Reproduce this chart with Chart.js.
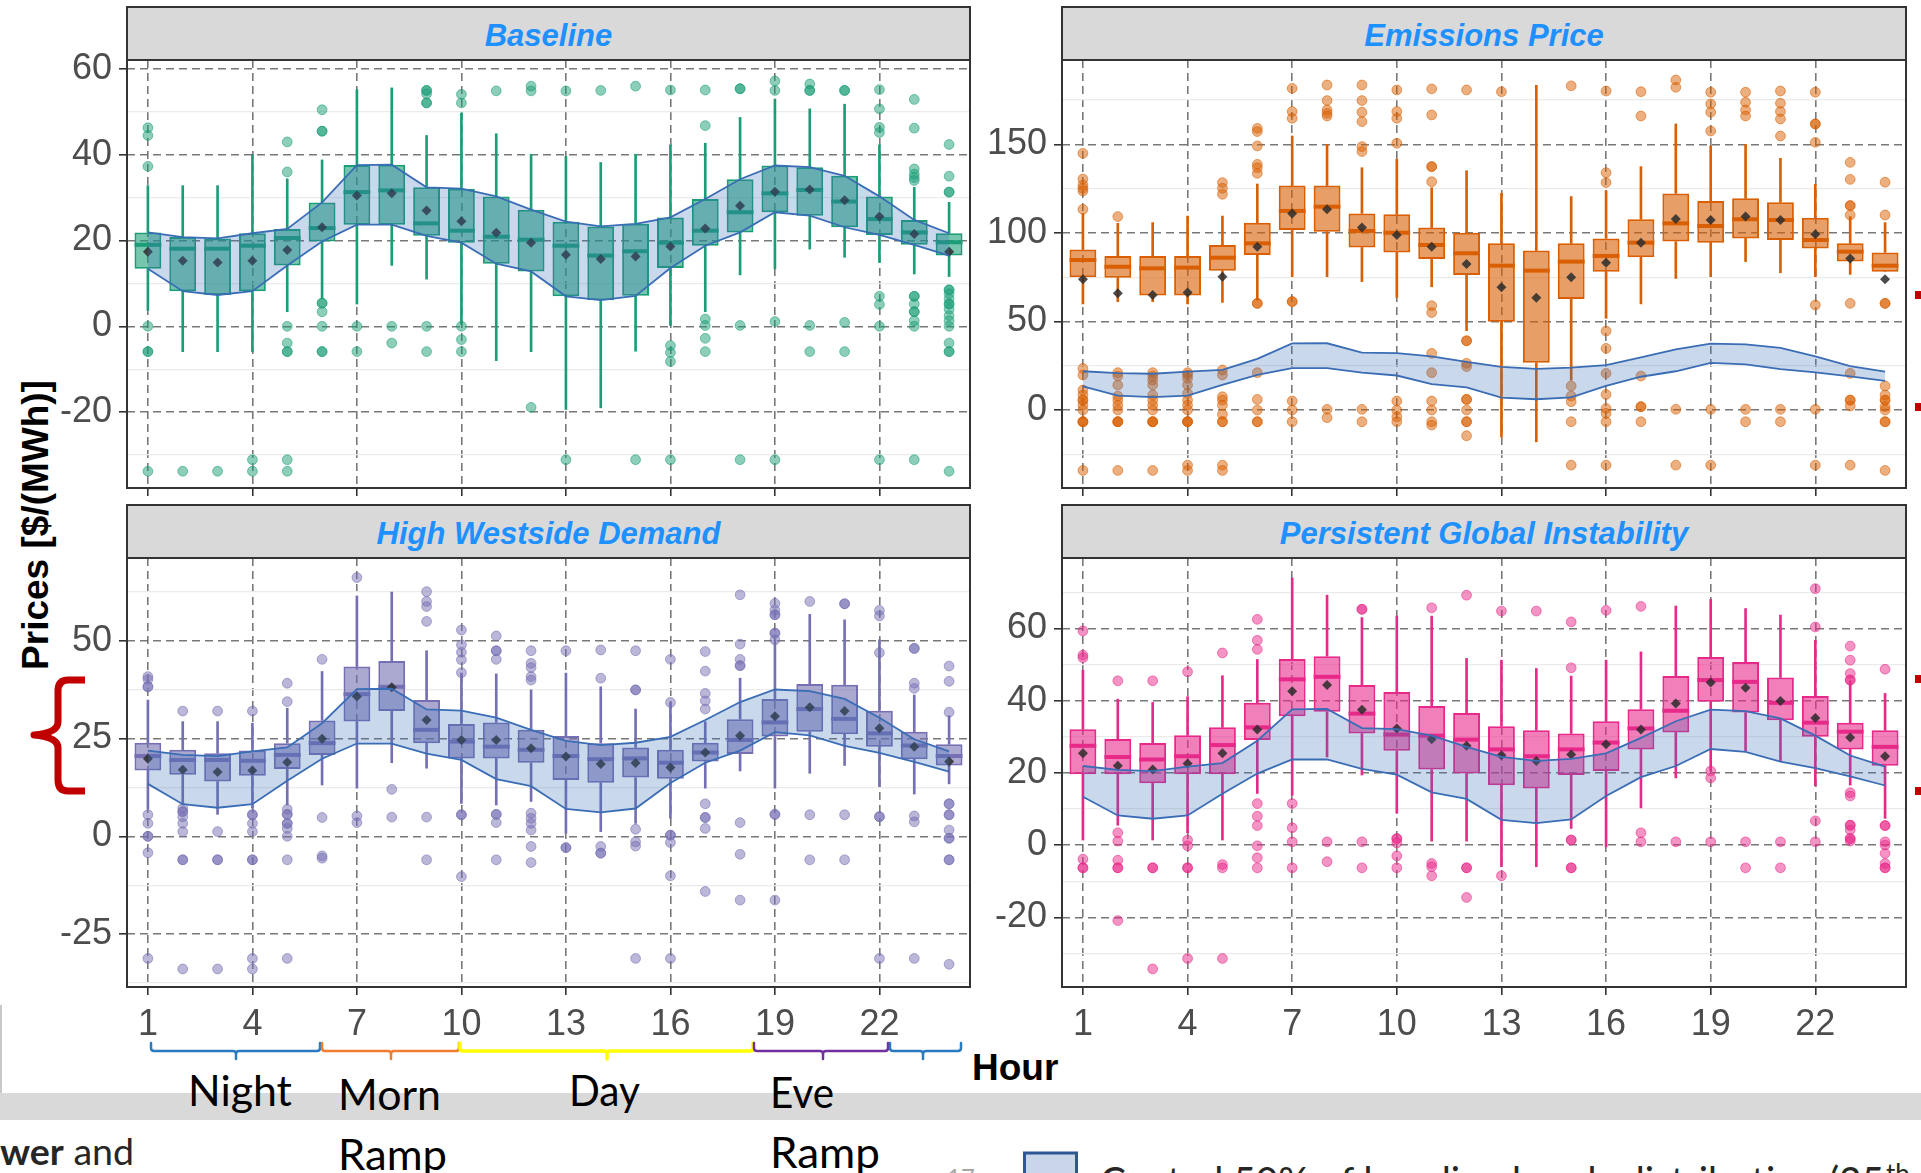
<!DOCTYPE html>
<html lang="en">
<head>
<meta charset="utf-8">
<title>Hourly prices by scenario</title>
<script src="https://cdn.jsdelivr.net/npm/chart.js@4.4.1/dist/chart.umd.min.js"></script>
<style>
  html, body { margin: 0; padding: 0; background: #fff; }
  #page { position: relative; width: 1921px; height: 1173px; overflow: hidden; background: #fff; }
  #deco { position: absolute; left: 0; top: 0; }
  canvas { position: absolute; }
</style>
</head>
<body>
<div id="page">
  <svg id="deco" width="1921" height="1173" viewBox="0 0 1921 1173" xmlns="http://www.w3.org/2000/svg">
    <!-- slide band behind the period labels -->
    <rect x="0" y="1093" width="1921" height="27" fill="#D9D9D9"/>
    <line x1="1" y1="1005" x2="1" y2="1093" stroke="#C8C8C8" stroke-width="2"/>

    <!-- facet strips -->
    <g stroke="#333" stroke-width="2" fill="#D9D9D9">
      <rect x="127" y="7" width="843" height="53"/>
      <rect x="1062" y="7" width="844" height="53"/>
      <rect x="127" y="505" width="843" height="53"/>
      <rect x="1062" y="505" width="844" height="53"/>
    </g>
    <g font-family="'Liberation Sans', Arial, sans-serif" font-weight="bold" font-style="italic" font-size="31" fill="#1E90FF" text-anchor="middle">
      <text x="548.5" y="46">Baseline</text>
      <text x="1484" y="46">Emissions Price</text>
      <text x="548.5" y="543.5">High Westside Demand</text>
      <text x="1484" y="543.5">Persistent Global Instability</text>
    </g>

    <!-- axis titles -->
    <text transform="translate(47.5,525) rotate(-90)" text-anchor="middle" font-family="'Liberation Sans', Arial, sans-serif" font-weight="bold" font-size="37" fill="#000">Prices [$/(MWh)]</text>
    <text x="972" y="1080" font-family="'Liberation Sans', Arial, sans-serif" font-weight="bold" font-size="37" fill="#000">Hour</text>

    <!-- red callout marks -->
    <path d="M85,680 L68,680 Q58,680 58,691 L58,722 Q58,733 34,735 Q58,737 58,748 L58,780 Q58,791 68,791 L85,791" fill="none" stroke="#C00000" stroke-width="7" stroke-linejoin="round"/>
    <g fill="#C00000">
      <rect x="1915" y="291" width="6" height="8"/>
      <rect x="1915" y="403" width="6" height="8"/>
      <rect x="1915" y="675" width="6" height="8"/>
      <rect x="1915" y="787" width="6" height="8"/>
    </g>

    <!-- period braces under the hour axis -->
    <g id="braces" fill="none" stroke-linecap="round" stroke-linejoin="round"></g>

    <!-- period labels -->
    <g font-family="Lato, 'Open Sans', sans-serif" font-size="43" fill="#000">
      <text x="188" y="1106" textLength="104" lengthAdjust="spacingAndGlyphs">Night</text>
      <text x="338" y="1110" textLength="103" lengthAdjust="spacingAndGlyphs">Morn</text>
      <text x="338" y="1170" textLength="109" lengthAdjust="spacingAndGlyphs">Ramp</text>
      <text x="569" y="1106" textLength="71" lengthAdjust="spacingAndGlyphs">Day</text>
      <text x="770" y="1108" textLength="64" lengthAdjust="spacingAndGlyphs">Eve</text>
      <text x="770" y="1168" textLength="110" lengthAdjust="spacingAndGlyphs">Ramp</text>
    </g>

    <!-- slide footer -->
    <text x="0" y="1165" font-family="Lato, sans-serif" font-size="36" fill="#262626" textLength="134" lengthAdjust="spacingAndGlyphs"><tspan font-weight="bold">wer</tspan> and</text>
    <text x="947" y="1186" font-family="Lato, sans-serif" font-size="24" fill="#A6A6A6">17</text>
    <rect x="1024.5" y="1153" width="52" height="40" fill="#C9D6EA" stroke="#2F5597" stroke-width="3"/>
    <text x="1100" y="1196" font-family="Lato, sans-serif" font-size="40" fill="#262626" textLength="784" lengthAdjust="spacingAndGlyphs">Central 50% of baseline bands distribution (25</text>
    <text x="1886" y="1183" font-family="Lato, sans-serif" font-size="26" fill="#262626">th</text>
  </svg>

  <canvas id="cBase" width="990" height="460" style="left:0px;top:50px"></canvas>
  <canvas id="cEmis" width="941" height="460" style="left:980px;top:50px"></canvas>
  <canvas id="cHwd" width="990" height="510" style="left:0px;top:548px"></canvas>
  <canvas id="cPgi" width="941" height="510" style="left:980px;top:548px"></canvas>
</div>

<script>
// ---- hours of the day ----
const hours = [1, 2, 3, 4, 5, 6, 7, 8, 9, 10, 11, 12, 13, 14, 15, 16, 17, 18, 19, 20, 21, 22, 23, 24];
const hourTicks = [1, 4, 7, 10, 13, 16, 19, 22];

// ---- Baseline: whisker ends, quartiles, median, mean, outliers ----
const baseLo   = [3.7, -5.9, -5.9, -5.9, 3.4, 6.4, 5.2, 14.2, 11.0, 0.5, -8.0, -5.9, -19.4, -19.0, -5.8, 0.2, 3.4, 12.0, 13.4, 18.0, 16.1, 14.9, 12.2, 11.6];
const baseQ1   = [13.4, 8.2, 7.3, 8.2, 14.2, 19.8, 23.7, 23.7, 21.1, 19.5, 14.6, 12.8, 7.0, 6.1, 7.1, 13.6, 18.8, 21.9, 26.6, 25.8, 23.1, 21.3, 19.0, 16.5];
const baseMed  = [19.0, 18.1, 18.1, 18.8, 20.6, 22.9, 31.3, 31.7, 24.0, 22.3, 20.9, 20.2, 18.8, 16.5, 17.5, 19.5, 22.3, 26.6, 31.0, 31.8, 29.1, 25.0, 21.9, 19.6];
const baseQ3   = [21.9, 20.8, 20.5, 21.7, 22.7, 28.9, 37.6, 37.7, 32.4, 32.1, 30.3, 27.2, 24.4, 23.3, 23.9, 25.4, 29.7, 34.3, 37.5, 37.1, 35.1, 30.3, 24.8, 21.7];
const baseHi   = [32.8, 32.8, 32.8, 40.1, 34.4, 38.8, 55.2, 55.6, 44.5, 49.7, 44.9, 40.1, 39.6, 38.2, 40.0, 42.3, 42.7, 48.7, 53.0, 50.7, 51.8, 42.3, 32.4, 28.9];
const baseMean = [17.4, 15.3, 14.9, 15.3, 17.8, 23.1, 30.5, 31.0, 27.0, 24.5, 21.8, 19.5, 16.7, 15.7, 16.3, 18.6, 22.8, 28.1, 31.4, 31.9, 29.4, 25.6, 21.5, 17.4];
const baseOut = [
  [46.3, 44.5, 37.3, 0, -5.9, -5.9, -33.8],
  [-33.8],
  [-33.8],
  [-31.1, -33.8],
  [43.0, 36.0, 0, -3.9, -5.9, -5.9, -31.1, -33.8],
  [50.5, 45.5, 45.5, 5.4, 5.4, 3.4, 0, -5.9, -5.9],
  [0, -5.9],
  [0, -3.9],
  [55.0, 55.0, 54.2, 52.1, 52.1, 0, -5.9],
  [54.1, 52.1, 0, -3.1, -5.9],
  [54.9],
  [56.0, 54.9, -18.9],
  [54.9, -31.1],
  [55.0],
  [56.0, -31.1],
  [55.1, -4.5, -6.1, -8.2, -31.1],
  [55.1, 46.8, 1.7, 0.2, -2.8, -5.9],
  [55.4, 55.4, 0.2, -31.1],
  [57.2, 55.0, 1.1, -31.1],
  [56.5, 55.0, 55.0, 0.2, -5.9],
  [55.0, 55.0, 0.9, -5.9],
  [55.2, 50.7, 46.4, 45.2, 7.0, 5.1, 0, -31.1],
  [52.9, 46.2, 36.7, 35.5, 34.7, 34.0, 7.0, 7.0, 5.2, 3.4, 3.4, 1.3, 0, -31.1],
  [42.4, 35.0, 31.3, 31.3, 8.5, 8.5, 7.6, 6.4, 5.2, 5.2, 4.0, 2.5, 1.3, 0, -3.9, -5.9, -5.9, -33.8]
];

// ---- Emissions Price ----
const emisLo   = [59.9, 61.2, 61.2, 59.9, 60.8, 62.0, 75.3, 75.3, 72.5, 63.6, 69.6, 44.8, -15.1, -17.9, 16.9, 51.8, 59.9, 74.3, 75.3, 83.8, 77.5, 75.3, 76.6, 78.1];
const emisQ1   = [74.9, 74.7, 64.7, 64.6, 78.7, 87.5, 101.6, 100.7, 91.8, 89.0, 85.3, 76.2, 49.9, 26.7, 62.7, 78.1, 86.2, 95.1, 94.5, 96.9, 96.0, 91.2, 83.8, 78.1];
const emisMed  = [84.7, 80.9, 80.0, 80.4, 86.0, 94.1, 112.4, 114.8, 101.1, 100.1, 93.2, 88.5, 81.5, 78.7, 83.8, 87.0, 94.5, 105.4, 103.9, 107.7, 107.3, 96.0, 89.4, 81.5];
const emisQ3   = [90.7, 87.0, 87.0, 87.0, 93.2, 105.8, 126.7, 126.7, 111.0, 110.5, 103.0, 100.1, 94.1, 90.0, 94.1, 96.9, 107.7, 122.3, 118.0, 119.5, 117.3, 108.6, 94.1, 89.0];
const emisHi   = [111.0, 105.4, 105.8, 109.5, 109.5, 127.6, 154.7, 150.0, 136.8, 141.5, 125.5, 135.1, 122.3, 183.3, 120.5, 123.8, 137.4, 161.5, 149.1, 150.0, 142.1, 127.4, 109.2, 105.8];
const emisMean = [73.8, 65.9, 64.9, 66.3, 75.3, 92.2, 111.0, 113.3, 103.0, 98.8, 92.2, 82.4, 69.3, 63.4, 74.9, 83.2, 94.5, 107.8, 107.3, 109.2, 107.3, 99.2, 85.6, 73.8];
const emisOut = [
  [144.9, 130.4, 127.0, 125.2, 123.7, 113.3, 23.5, 19.8, 11.3, 8.5, 5.6, 5.6, 2.8, 0, -6.6, -6.6, -6.6, -34.1],
  [109.2, 21.1, 19.2, 14.1, 7.9, 5.6, 2.8, 0, -6.6, -6.6, -6.6, -34.1],
  [21.1, 19.2, 16.9, 14.1, 8.5, 5.6, 2.8, 0, -6.6, -6.6, -6.6, -34.1],
  [21.1, 19.8, 17.9, 14.1, 9.4, 5.6, 2.8, 0, -6.6, -6.6, -6.6, -31.1, -34.1],
  [128.4, 125.2, 121.8, 22.6, 19.8, 7.5, 5.6, 2.8, -2.4, -6.6, -6.6, -31.1, -34.1],
  [159.0, 157.2, 149.1, 138.7, 136.8, 133.6, 60.2, 60.2, 21.1, 6.0, 0, -6.6, -6.6],
  [181.6, 168.5, 164.7, 61.2, 61.2, 5.1, 0, -6.6],
  [183.5, 174.7, 169.4, 167.5, 166.0, 0.4, -4.3],
  [183.5, 174.7, 168.1, 162.8, 148.7, 145.9, 0.4, -6.6],
  [180.7, 168.5, 164.7, 150.6, 5.1, 0, -3.8, -6.6],
  [181.3, 166.6, 137.4, 137.4, 128.9, 58.9, 55.0, 32.0, 21.1, 5.1, 0, -6.6, -8.5],
  [180.7, 39.1, 39.1, 26.4, 24.5, 6.0, 6.0, 0, -6.6, -6.6, -14.5],
  [179.7],
  [],
  [183.0, 13.6, 7.9, 4.7, -6.6, -31.1],
  [180.1, 134.0, 128.4, 44.6, 34.8, 20.7, 8.8, 0.9, -1.9, -6.6, -31.1],
  [179.7, 166.0, 19.2, 1.9, 1.9, -6.6],
  [186.3, 182.2, 0.4, -31.1],
  [179.4, 172.8, 168.1, 157.5, 0.4, -31.1],
  [179.4, 173.7, 169.4, 166.0, 0.4, -6.6],
  [180.1, 173.2, 168.5, 164.3, 154.7, 0.4, -6.6],
  [179.4, 161.5, 161.5, 151.1, 59.3, 0.4, -31.1],
  [139.8, 130.2, 115.4, 115.4, 110.1, 60.2, 20.7, 5.6, 5.6, 2.3, -31.1],
  [128.6, 110.1, 60.2, 60.2, 13.6, 8.5, 5.6, 5.6, 1.9, 0, -6.6, -6.6, -34.1]
];

// ---- High Westside Demand ----
const hwdLo   = [7.0, 8.0, 5.6, 7.2, 8.0, 13.1, 12.3, 18.8, 17.4, 8.4, 8.0, 8.9, 0.8, 1.2, 3.3, 4.6, 12.3, 16.7, 12.3, 16.1, 18.1, 12.7, 10.8, 13.4];
const hwdQ1   = [16.8, 15.7, 14.0, 15.5, 17.2, 20.8, 29.3, 32.0, 23.8, 19.9, 19.9, 18.8, 14.4, 13.7, 15.0, 14.7, 19.1, 21.0, 25.5, 26.7, 26.1, 22.9, 19.7, 18.1];
const hwdMed  = [20.5, 19.5, 19.5, 19.3, 20.8, 23.8, 36.3, 38.2, 27.2, 24.2, 22.9, 22.1, 20.5, 19.7, 19.9, 18.8, 21.4, 24.6, 29.1, 32.5, 30.0, 26.3, 23.2, 20.5];
const hwdQ3   = [23.9, 22.1, 21.2, 21.9, 23.8, 29.6, 43.4, 44.8, 34.8, 28.7, 29.1, 27.2, 25.6, 23.8, 22.7, 22.1, 23.9, 29.9, 35.1, 38.9, 38.7, 32.1, 26.7, 23.5];
const hwdHi   = [34.8, 29.3, 29.3, 28.9, 32.7, 42.1, 61.4, 62.4, 47.4, 41.7, 41.5, 37.4, 41.7, 38.2, 32.5, 34.2, 29.3, 40.4, 50.2, 56.7, 55.3, 50.2, 36.1, 30.8];
const hwdMean = [19.8, 17.0, 16.4, 16.8, 18.9, 24.9, 35.7, 38.1, 29.7, 24.6, 24.6, 22.5, 20.4, 18.5, 18.7, 17.6, 21.4, 25.7, 30.7, 33.0, 32.0, 27.6, 22.9, 19.1];
const hwdOut = [
  [40.8, 40.1, 38.2, 38.2, 5.5, 3.3, 0, 0, -4.2, -31.2],
  [32.0, 7.2, 6.3, 6.3, 5.0, 3.3, 1.2, -6.0, -6.0, -33.9],
  [32.0, 1.2, -6.0, -6.0, -33.9],
  [32.0, 5.5, 5.5, 3.3, 1.2, -6.0, -6.0, -31.2, -33.9],
  [39.1, 34.4, 6.9, 5.6, 5.6, 3.3, 3.3, 2.0, 0, -6.0, -31.2],
  [45.2, 4.8, -5.0, -5.6],
  [66.1, 5.2, 3.5],
  [12.0, 4.9],
  [62.5, 60.0, 58.7, 54.9, 4.9, -6.0],
  [52.7, 48.9, 47.0, 45.1, 41.8, 5.5, 5.5, -10.3],
  [51.2, 47.4, 47.4, 45.2, 5.6, 5.6, 3.5, -6.0],
  [47.4, 44.2, 43.1, 40.8, 39.9, 5.9, 4.6, 3.3, 1.6, -2.6, -6.7],
  [47.4, -2.9, -2.9],
  [47.6, 40.4, -2.6, -4.3, -4.3],
  [47.4, 37.4, 37.4, 1.8, -1.4, -2.5, -31.2],
  [45.2, 34.2, 0.3, 0.3, -1.6, -10.1, -31.2],
  [47.2, 42.2, 36.5, 34.6, 32.5, 8.3, 4.8, 4.8, 2.0, -14.1],
  [61.7, 49.1, 45.2, 43.6, 43.6, 3.5, -4.6, -16.3],
  [59.5, 57.8, 56.6, 56.6, 51.9, 51.9, 50.2, 5.6, 5.6, -16.3],
  [60.0, 5.5, -6.0],
  [59.4, 59.4, 5.5, -6.0],
  [57.7, 56.3, 46.9, 5.0, 5.0, -31.2],
  [48.0, 48.0, 39.1, 37.8, 5.2, 3.7, -31.2],
  [43.5, 39.6, 31.7, 8.3, 8.3, 5.5, 5.5, 1.6, -0.5, -0.5, -6.0, -6.0, -32.7]
];

// ---- Persistent Global Instability ----
const pgiLo   = [1.4, 5.5, 1.4, 3.4, 1.4, 14.3, 13.8, 24.4, 19.4, 8.8, 1.1, 1.1, -6.0, -6.0, 4.6, -0.5, 10.3, 18.6, 20.5, 26.1, 23.1, 16.4, 16.6, 7.4];
const pgiQ1   = [19.6, 19.6, 17.1, 19.6, 19.6, 29.1, 35.7, 36.9, 30.9, 26.1, 20.9, 19.8, 16.6, 15.7, 19.4, 20.5, 26.5, 31.2, 39.7, 36.7, 34.6, 30.0, 26.5, 22.0];
const pgiMed  = [27.5, 24.4, 23.7, 24.6, 27.7, 32.6, 45.9, 46.6, 36.4, 30.6, 30.3, 29.2, 26.5, 24.6, 26.5, 28.4, 32.3, 37.2, 45.7, 45.2, 39.4, 33.9, 31.4, 27.2];
const pgiQ3   = [32.1, 29.4, 28.3, 30.4, 32.6, 39.4, 51.5, 52.3, 44.3, 42.4, 38.5, 36.6, 32.9, 31.8, 30.9, 34.3, 37.6, 46.8, 52.1, 50.7, 46.4, 41.3, 33.9, 31.8];
const pgiHi   = [48.4, 40.4, 39.5, 41.1, 46.9, 51.4, 74.0, 69.2, 63.0, 63.4, 63.4, 51.7, 51.2, 48.9, 46.8, 51.2, 53.5, 66.2, 68.0, 65.5, 63.7, 56.7, 45.5, 42.0];
const pgiMean = [25.4, 22.0, 20.9, 22.6, 25.4, 32.0, 42.6, 44.3, 37.5, 32.3, 29.3, 27.5, 24.9, 23.3, 25.1, 27.9, 32.0, 39.2, 45.0, 43.6, 39.9, 35.2, 29.8, 24.6];
const pgiOut = [
  [59.3, 52.6, 51.9, -3.9, -6.3, -6.3],
  [45.5, 3.4, 1.1, -4.2, -6.3, -6.3, -20.9],
  [45.5, -6.3, -6.3, -34.3],
  [48.0, 1.4, -0.2, -6.3, -6.3, -31.4],
  [53.2, -5.4, -6.3, -31.4],
  [62.5, 56.7, 54.2, 11.5, 8.0, 5.4, -0.2, -3.5, -6.3],
  [11.5, 4.8, 0.9, -6.3],
  [0.9, -4.6],
  [65.3, 65.3, 0.9, -6.3],
  [1.8, 1.8, 0.6, -3.0, -6.3],
  [65.7, -5.1, -6.0, -8.5],
  [69.2, -6.3, -6.3, -14.5],
  [64.8, -8.5],
  [64.8],
  [61.8, 49.1, 1.4, 1.4, -6.3, -6.3],
  [65.0],
  [66.1, 3.4, 0.9],
  [0.9],
  [20.5, 18.6, 0.9],
  [0.9, -6.3],
  [0.9, -6.3],
  [71.0, 60.4, 6.7, 0.9],
  [55.1, 51.2, 47.5, 45.7, 45.7, 14.5, 13.6, 5.5, 5.5, 4.2, 1.8, 1.8, 1.1],
  [48.7, 5.4, 5.4, 0.9, 0, -2.3, -5.1, -6.3, -6.3]
];

// ---- y-axis breaks per panel (labelled majors, unlabelled minors) ----
const baseMajor = [-20, 0, 20, 40, 60];
const baseMinor = [-30, -10, 10, 30, 50];
const emisMajor = [0, 50, 100, 150];
const emisMinor = [-25, 25, 75, 125, 175];
const hwdMajor  = [-25, 0, 25, 50];
const hwdMinor  = [-37.5, -12.5, 12.5, 37.5, 62.5];
const pgiMajor  = [-20, 0, 20, 40, 60];
const pgiMinor  = [-30, -10, 10, 30, 50, 70];

// ---- styling ----
const FONT = "'Liberation Sans', Arial, sans-serif";
const GRID_MAJOR = 'rgba(105,105,105,0.9)';
const GRID_MINOR = '#EBEBEB';
const BAND_LINE = '#3A6DB5';
const BAND_FILL = 'rgba(58,110,181,0.27)';

function rgba(hex, a) {
  const n = parseInt(hex.slice(1), 16);
  return `rgba(${(n >> 16) & 255},${(n >> 8) & 255},${n & 255},${a})`;
}

// panel outline drawn on top of the plotted marks
const panelFrame = {
  id: 'panelFrame',
  afterDraw(chart) {
    const { ctx, chartArea: a } = chart;
    ctx.save();
    ctx.strokeStyle = '#333';
    ctx.lineWidth = 2;
    ctx.strokeRect(a.left, a.top, a.right - a.left, a.bottom - a.top);
    ctx.restore();
  }
};

function buildPanel(canvasId, s) {
  const lowerWhisker = hours.map((h, i) => ({ x: h, y: [s.lo[i], s.q1[i]] }));
  const upperWhisker = hours.map((h, i) => ({ x: h, y: [s.q3[i], s.hi[i]] }));
  const boxes = hours.map((h, i) => ({ x: h, y: [s.q1[i], s.q3[i]] }));
  const medians = hours.map((h, i) => ({ x: h, y: s.med[i] }));
  const means = hours.map((h, i) => ({ x: h, y: s.mean[i] }));
  const outliers = [];
  s.out.forEach((vals, i) => vals.forEach(v => outliers.push({ x: hours[i], y: v })));
  // central 50% band of the baseline scenario
  const bandLo = hours.map((h, i) => ({ x: h, y: baseQ1[i] }));
  const bandHi = hours.map((h, i) => ({ x: h, y: baseQ3[i] }));

  const isMajor = v => s.major.includes(v);
  const tickIsMajor = c => !!(c.tick && isMajor(c.tick.value));

  return new Chart(document.getElementById(canvasId), {
    type: 'bar',
    data: {
      datasets: [
        { type: 'bar', data: lowerWhisker, backgroundColor: s.color, borderWidth: 0, barThickness: 2, grouped: false, order: 7 },
        { type: 'bar', data: upperWhisker, backgroundColor: s.color, borderWidth: 0, barThickness: 2, grouped: false, order: 7 },
        { type: 'bar', data: boxes, backgroundColor: rgba(s.color, 0.6), borderColor: s.color, borderWidth: 2,
          borderSkipped: false, barPercentage: 0.77, categoryPercentage: 1, grouped: false, order: 6 },
        { type: 'scatter', data: outliers, pointStyle: 'circle', pointRadius: 4.9,
          pointBackgroundColor: rgba(s.color, 0.5), pointBorderColor: rgba(s.color, 0.55), pointBorderWidth: 1, order: 5 },
        { type: 'scatter', data: medians, pointStyle: 'line', pointRadius: 13.4,
          pointBorderColor: s.color, pointBorderWidth: 4, order: 4 },
        { type: 'scatter', data: means, pointStyle: 'rectRot', pointRadius: 5,
          pointBackgroundColor: 'rgba(45,45,45,0.85)', pointBorderWidth: 0, order: 3 },
        { type: 'line', data: bandLo, borderColor: BAND_LINE, borderWidth: 1.8, pointRadius: 0, fill: false, tension: 0, order: 1 },
        { type: 'line', data: bandHi, borderColor: BAND_LINE, borderWidth: 1.8, pointRadius: 0, fill: '-1',
          backgroundColor: BAND_FILL, tension: 0, order: 2 }
      ]
    },
    options: {
      responsive: false,
      animation: false,
      devicePixelRatio: 1,
      events: [],
      layout: { autoPadding: false, padding: { top: 10, right: s.padRight, left: 0, bottom: 0 } },
      plugins: { legend: { display: false }, tooltip: { enabled: false }, title: { display: false } },
      scales: {
        x: {
          type: 'linear', min: 0.4, max: 24.6, offset: false,
          afterBuildTicks: a => { a.ticks = hourTicks.map(v => ({ value: v })); },
          afterFit: a => { a.height = s.xHeight; a.paddingLeft = 0; a.paddingRight = 0; },
          ticks: {
            autoSkip: false, maxRotation: 0, minRotation: 0, padding: 8, color: '#4D4D4D',
            font: { family: FONT, size: 36 },
            callback: v => (s.showX ? String(v) : '')
          },
          grid: { offset: false, color: GRID_MAJOR, lineWidth: 1.6, drawTicks: true, tickLength: 8, tickColor: '#333', tickWidth: 1.6 },
          border: { display: false, dash: [8, 5] }
        },
        y: {
          type: 'linear', min: s.yMin, max: s.yMax,
          afterBuildTicks: a => {
            a.ticks = s.major.concat(s.minor).sort((p, q) => p - q).map(v => ({ value: v }));
          },
          afterFit: a => { a.width = s.yWidth; a.paddingTop = 0; a.paddingBottom = 0; },
          ticks: {
            autoSkip: false, padding: 7, color: '#4D4D4D',
            font: { family: FONT, size: 36 },
            callback: v => (isMajor(v) ? String(v) : '')
          },
          grid: {
            color: c => (tickIsMajor(c) ? GRID_MAJOR : GRID_MINOR),
            lineWidth: c => (tickIsMajor(c) ? 1.6 : 1.3),
            drawTicks: true, tickLength: 8, tickWidth: 1.6,
            tickColor: c => (tickIsMajor(c) ? '#333' : 'rgba(0,0,0,0)')
          },
          border: { display: false, dash: c => (tickIsMajor(c) ? [8, 5] : []) }
        }
      }
    },
    plugins: [panelFrame]
  });
}

buildPanel('cBase', {
  color: '#1B9E77', lo: baseLo, q1: baseQ1, med: baseMed, q3: baseQ3, hi: baseHi, mean: baseMean, out: baseOut,
  yMin: -37.7, yMax: 62.1, major: baseMajor, minor: baseMinor,
  yWidth: 127, xHeight: 22, padRight: 20, showX: false
});
buildPanel('cEmis', {
  color: '#D95F02', lo: emisLo, q1: emisQ1, med: emisMed, q3: emisQ3, hi: emisHi, mean: emisMean, out: emisOut,
  yMin: -44.0, yMax: 197.6, major: emisMajor, minor: emisMinor,
  yWidth: 82, xHeight: 22, padRight: 15, showX: false
});
buildPanel('cHwd', {
  color: '#7570B3', lo: hwdLo, q1: hwdQ1, med: hwdMed, q3: hwdQ3, hi: hwdHi, mean: hwdMean, out: hwdOut,
  yMin: -38.5, yMax: 71.1, major: hwdMajor, minor: hwdMinor,
  yWidth: 127, xHeight: 71, padRight: 20, showX: true
});
buildPanel('cPgi', {
  color: '#E7298A', lo: pgiLo, q1: pgiQ1, med: pgiMed, q3: pgiQ3, hi: pgiHi, mean: pgiMean, out: pgiOut,
  yMin: -39.3, yMax: 79.5, major: pgiMajor, minor: pgiMinor,
  yWidth: 82, xHeight: 71, padRight: 15, showX: true
});

// period braces beneath the hour axis
(function drawBraces() {
  const periods = [
    { x1: 151, x2: 320, xc: 236, color: '#2A7AC0', w: 2.5 },
    { x1: 322, x2: 459, xc: 391, color: '#ED7D31', w: 2.5 },
    { x1: 460, x2: 753, xc: 607, color: '#FFFF00', w: 3.5 },
    { x1: 754, x2: 888, xc: 823, color: '#7030A0', w: 2.5 },
    { x1: 890, x2: 961, xc: 923, color: '#2A7AC0', w: 2.5 }
  ];
  const yTop = 1043, yLine = 1051, yTip = 1059, r = 3;
  const g = document.getElementById('braces');
  periods.forEach(p => {
    const d = `M${p.x1},${yTop} L${p.x1},${yLine - r} Q${p.x1},${yLine} ${p.x1 + r},${yLine} ` +
      `L${p.xc - r},${yLine} Q${p.xc},${yLine} ${p.xc},${yLine + r} L${p.xc},${yTip} ` +
      `M${p.xc},${yLine + r} Q${p.xc},${yLine} ${p.xc + r},${yLine} L${p.x2 - r},${yLine} ` +
      `Q${p.x2},${yLine} ${p.x2},${yLine - r} L${p.x2},${yTop}`;
    const path = document.createElementNS('http://www.w3.org/2000/svg', 'path');
    path.setAttribute('d', d);
    path.setAttribute('stroke', p.color);
    path.setAttribute('stroke-width', p.w);
    g.appendChild(path);
  });
})();
</script>
</body>
</html>
